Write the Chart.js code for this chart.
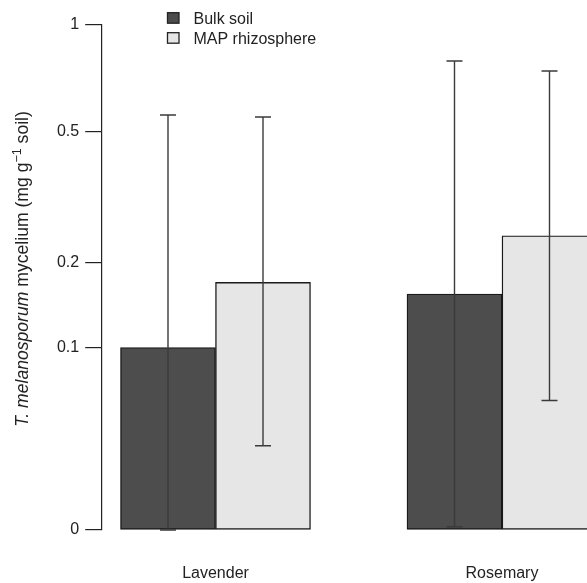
<!DOCTYPE html>
<html>
<head>
<meta charset="utf-8">
<script src="https://cdn.jsdelivr.net/npm/chart.js@4.4.1/dist/chart.umd.min.js"></script>
<style>
  html, body { margin: 0; padding: 0; background: #ffffff; overflow: hidden; }
  #wrap { width: 587px; height: 583px; position: relative; }
</style>
</head>
<body>
<div id="wrap"><canvas id="c" width="587" height="583"></canvas></div>
<script>
// ---- data ----
const categories = ['Lavender', 'Rosemary'];
const seriesNames = ['Bulk soil', 'MAP rhizosphere'];
const bulkValues = [0.100, 0.157];
const mapValues  = [0.172, 0.244];
const bulkErrLow  = [0.000, 0.001];
const bulkErrHigh = [0.558, 0.792];
const mapErrLow   = [0.033, 0.059];
const mapErrHigh  = [0.551, 0.743];
const tickValues = [0, 0.1, 0.2, 0.5, 1];
const tickLabels = ['0', '0.1', '0.2', '0.5', '1'];

// axis transform: log(1 + v / 0.05)
const OFFSET = 0.05;
const T = v => Math.log(1 + v / OFFSET);

const FONT = '"Liberation Sans", Arial, Helvetica, sans-serif';
const colors = ['#4d4d4d', '#e6e6e6'];

function toPoints(vals) { return vals.map((v, i) => ({ x: i + 1, y: T(v) })); }

const errors = [
  { low: bulkErrLow, high: bulkErrHigh },
  { low: mapErrLow, high: mapErrHigh }
];

const errorBarPlugin = {
  id: 'errorBars',
  afterDatasetsDraw(chart) {
    const ctx = chart.ctx;
    const yScale = chart.scales.y;
    ctx.save();
    ctx.strokeStyle = '#3a3a3a';
    ctx.lineWidth = 1.4;
    chart.data.datasets.forEach((ds, di) => {
      const meta = chart.getDatasetMeta(di);
      meta.data.forEach((bar, i) => {
        const x = bar.x;
        const yTop = yScale.getPixelForValue(T(errors[di].high[i]));
        const yBot = yScale.getPixelForValue(T(errors[di].low[i]));
        const cap = 8;
        ctx.beginPath();
        ctx.moveTo(x, yTop); ctx.lineTo(x, yBot);
        ctx.moveTo(x - cap, yTop); ctx.lineTo(x + cap, yTop);
        ctx.moveTo(x - cap, yBot); ctx.lineTo(x + cap, yBot);
        ctx.stroke();
      });
    });
    ctx.restore();
  }
};

const overlayPlugin = {
  id: 'overlay',
  afterDraw(chart) {
    const ctx = chart.ctx;
    ctx.save();
    // legend
    ctx.font = '16px ' + FONT;
    ctx.textBaseline = 'middle';
    ctx.textAlign = 'left';
    chart.data.datasets.forEach((ds, i) => {
      const y0 = 12.7 + i * 20;
      ctx.fillStyle = ds.backgroundColor;
      ctx.fillRect(167.5, y0, 11.5, 10.5);
      ctx.strokeStyle = '#222';
      ctx.lineWidth = 1.3;
      ctx.strokeRect(167.5, y0, 11.5, 10.5);
      ctx.fillStyle = '#222';
      ctx.fillText(ds.label, 193.5, y0 + 6.5);
    });
    // y-axis title with italic species name and superscript
    const parts = [
      { t: 'T. melanosporum', style: 'italic ', size: 17.6, dy: 0 },
      { t: ' mycelium (mg g', style: '', size: 17.6, dy: 0 },
      { t: '\u22121', style: '', size: 12.5, dy: -7 },
      { t: ' soil)', style: '', size: 17.6, dy: 0 }
    ];
    let total = 0;
    parts.forEach(p => { ctx.font = p.style + p.size + 'px ' + FONT; p.w = ctx.measureText(p.t).width; total += p.w; });
    ctx.translate(28, 269);
    ctx.rotate(-Math.PI / 2);
    ctx.textBaseline = 'alphabetic';
    ctx.fillStyle = '#222';
    let x = -total / 2;
    parts.forEach(p => {
      ctx.font = p.style + p.size + 'px ' + FONT;
      ctx.fillText(p.t, x, p.dy);
      x += p.w;
    });
    ctx.restore();
  }
};

new Chart(document.getElementById('c'), {
  type: 'bar',
  data: {
    datasets: [
      { label: seriesNames[0], data: toPoints(bulkValues), backgroundColor: colors[0],
        borderColor: '#1a1a1a', borderWidth: 1.4, borderSkipped: false, barThickness: 95 },
      { label: seriesNames[1], data: toPoints(mapValues), backgroundColor: colors[1],
        borderColor: '#1a1a1a', borderWidth: 1.4, borderSkipped: false, barThickness: 95 }
    ]
  },
  options: {
    responsive: false,
    animation: false,
    devicePixelRatio: 1,
    layout: { padding: { top: 24.3, left: 0, right: 0, bottom: 0 } },
    plugins: { legend: { display: false }, tooltip: { enabled: false }, title: { display: false } },
    scales: {
      x: {
        type: 'linear',
        position: 'bottom',
        offset: false,
        bounds: 'data',
        min: 0.6028,
        max: 2.2967,
        grid: { display: false, drawTicks: false, offset: false },
        border: { display: false },
        afterBuildTicks: s => { s.ticks = categories.map((c, i) => ({ value: i + 1 })); },
        afterFit: s => { s.height = 53; },
        ticks: {
          autoSkip: false,
          maxRotation: 0,
          padding: 33.5,
          color: '#222',
          font: { family: FONT, size: 16 },
          callback: (v) => categories[Math.round(v) - 1] || ''
        }
      },
      y: {
        type: 'linear',
        min: 0,
        max: T(1),
        grid: { display: true, drawOnChartArea: false, drawTicks: true, tickLength: 16.5, color: '#222', lineWidth: 1.2 },
        border: { display: true, color: '#222', width: 1.2 },
        afterBuildTicks: s => { s.ticks = tickValues.map(v => ({ value: T(v) })); },
        afterFit: s => { s.width = 101.7; },
        ticks: {
          autoSkip: false,
          padding: 6,
          color: '#222',
          font: { family: FONT, size: 16 },
          callback: (v, i) => tickLabels[i]
        }
      }
    }
  },
  plugins: [errorBarPlugin, overlayPlugin]
});
</script>
</body>
</html>
